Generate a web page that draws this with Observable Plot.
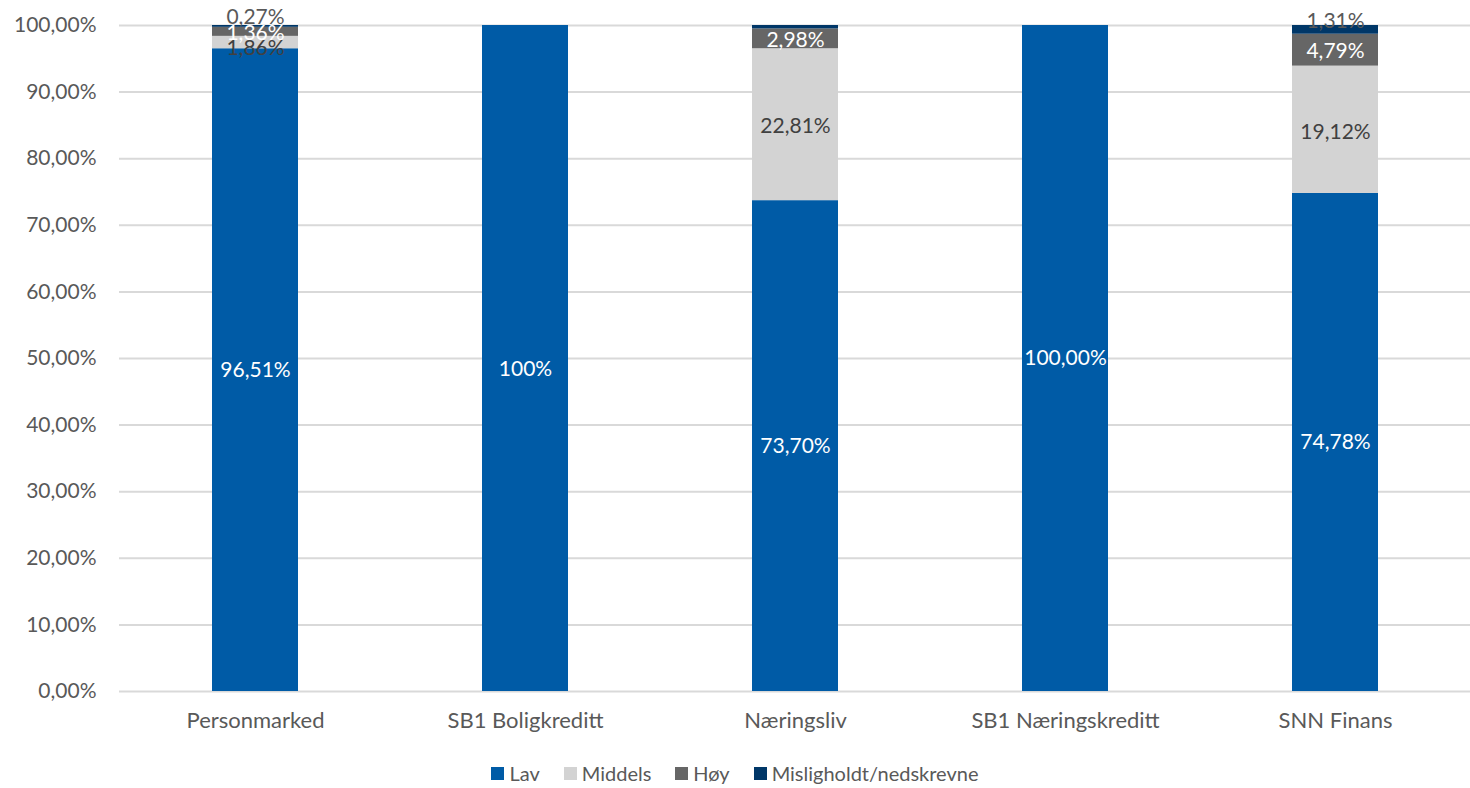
<!DOCTYPE html>
<html>
<head>
<meta charset="utf-8">
<script src="https://cdn.jsdelivr.net/npm/d3@7"></script>
<script src="https://cdn.jsdelivr.net/npm/@observablehq/plot@0.6"></script>
<style>
  html, body { margin: 0; padding: 0; background: #fff; }
  body { width: 1470px; height: 788px; overflow: hidden; font-family: Lato, "Open Sans", sans-serif; }
  #legend { display: flex; justify-content: center; font-size: 20px; color: #595959; margin-left: 0px; margin-top: 13px; }
  #legend .item { display: flex; align-items: center; margin: 0 12px; }
  #legend .sw { width: 13px; height: 13px; margin-right: 5px; }
</style>
</head>
<body>
<div id="chart"></div>
<div id="legend"></div>
<script>
const categories = ["Personmarked", "SB1 Boligkreditt", "Næringsliv", "SB1 Næringskreditt", "SNN Finans"];
const series = ["Lav", "Middels", "Høy", "Misligholdt/nedskrevne"];
const colors = ["#005BA6", "#D3D3D3", "#666666", "#003768"];

const lav     = [96.51, 100, 73.70, 100, 74.78];
const middels = [1.86, 0, 22.81, 0, 19.12];
const hoy     = [1.36, 0, 2.98, 0, 4.79];
const mislig  = [0.27, 0, 0.51, 0, 1.31];

const lavLabels     = ["96,51%", "100%", "73,70%", "100,00%", "74,78%"];
const middelsLabels = ["1,86%", "", "22,81%", "", "19,12%"];
const hoyLabels     = ["1,36%", "", "2,98%", "", "4,79%"];
const misligLabels  = ["0,27%", "", "", "", "1,31%"];

const yTicks = [0, 10, 20, 30, 40, 50, 60, 70, 80, 90, 100];

const values = [lav, middels, hoy, mislig];
const labels = [lavLabels, middelsLabels, hoyLabels, misligLabels];
const data = [];
categories.forEach((c, i) => {
  series.forEach((s, j) => {
    data.push({cat: c, series: s, value: values[j][i], label: labels[j][i]});
  });
});

const fmt = d => d.toFixed(2).replace(".", ",") + "%";

// label mark for one series; optional category subset (only / except)
function labelMark(s, fill, dy, cats, exclude) {
  return Plot.text(data, Plot.stackY({
    x: "cat", y: "value",
    text: d => {
      if (d.series !== s) return "";
      if (cats) {
        const inCats = cats.includes(d.cat);
        if (exclude ? inCats : !inCats) return "";
      }
      return d.label;
    },
    fill, dy, fontSize: 21
  }));
}

const chart = Plot.plot({
  width: 1470,
  height: 748,
  marginLeft: 119,
  marginRight: 0,
  marginTop: 25,
  marginBottom: 57,
  style: {fontFamily: "Lato, 'Open Sans', sans-serif", fontSize: "21px", color: "#595959", background: "#fff"},
  x: {domain: categories, paddingInner: 0.683, paddingOuter: 0.3415, label: null},
  y: {domain: [0, 100], label: null},
  color: {domain: series, range: colors},
  marks: [
    Plot.gridY(yTicks, {stroke: "#D9D9D9", strokeOpacity: 1, strokeWidth: 2}),
    Plot.barY(data, {x: "cat", y: "value", fill: "series"}),
    Plot.axisY({ticks: yTicks, tickFormat: fmt, tickSize: 0, tickPadding: 23, fontSize: 21, label: null}),
    Plot.axisX({tickSize: 0, tickPadding: 21, fontSize: 22, label: null}),
    labelMark("Lav", "white", 0, ["SB1 Boligkreditt"], true),
    labelMark("Lav", "white", 11, ["SB1 Boligkreditt"], false),
    labelMark("Middels", "#404040", 2, ["Personmarked"], true),
    labelMark("Middels", "#404040", 6, ["Personmarked"], false),
    labelMark("Høy", "white", 1),
    labelMark("Misligholdt/nedskrevne", "#595959", -9)
  ]
});
document.getElementById("chart").appendChild(chart);

const legend = document.getElementById("legend");
series.forEach((s, i) => {
  const item = document.createElement("div");
  item.className = "item";
  const sw = document.createElement("div");
  sw.className = "sw";
  sw.style.background = colors[i];
  const t = document.createElement("span");
  t.textContent = s;
  item.appendChild(sw);
  item.appendChild(t);
  legend.appendChild(item);
});
</script>
</body>
</html>
